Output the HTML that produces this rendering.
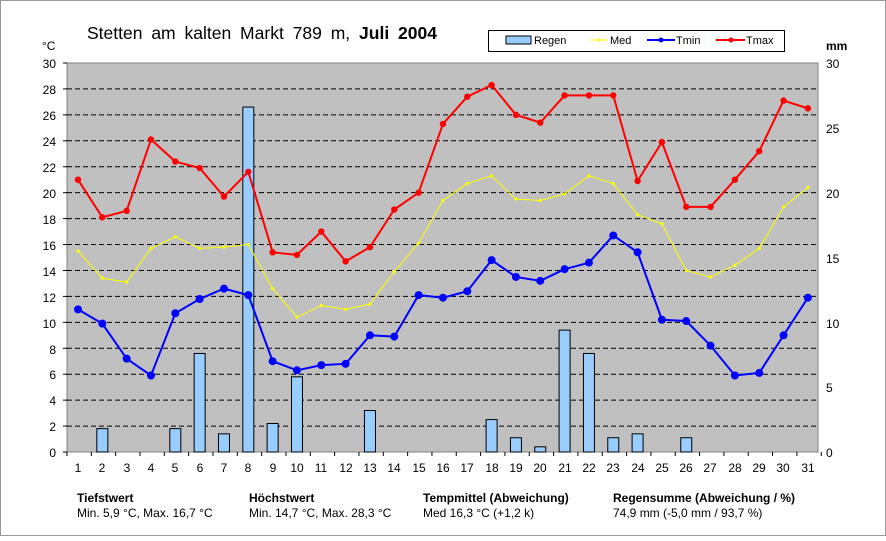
<!DOCTYPE html>
<html><head><meta charset="utf-8"><style>
body{margin:0;background:#fff;}
svg text{font-family:"Liberation Sans",sans-serif;}
</style></head><body>
<svg id="s" width="886" height="536" xmlns="http://www.w3.org/2000/svg">
<rect x="0.5" y="0.5" width="885" height="535" fill="#fff" stroke="#999"/>
<rect x="67" y="63" width="751" height="389" fill="#c0c0c0" stroke="#808080"/>
<g id="grid"></g>
<text x="87" y="39" font-size="17.5" word-spacing="4">Stetten am kalten Markt  789 m, <tspan font-weight="bold">Juli 2004</tspan></text>
<text x="42" y="50" font-size="12">°C</text>
<text x="826" y="50" font-size="12" font-weight="bold">mm</text>
<rect x="488.5" y="30.5" width="296" height="21" fill="#fff" stroke="#000"/>
<rect x="506" y="36" width="25" height="8" fill="#99ccff" stroke="#000"/>
<text x="534" y="44" font-size="11">Regen</text>
<line x1="590" y1="40" x2="608" y2="40" stroke="#ffff00"/><circle cx="599" cy="40" r="1.5" fill="#ffff00"/>
<text x="610" y="44" font-size="11">Med</text>
<line x1="647" y1="40" x2="675" y2="40" stroke="#0000ff" stroke-width="2"/><circle cx="661" cy="40" r="2.5" fill="#0000ff"/>
<text x="676" y="44" font-size="11">Tmin</text>
<line x1="716" y1="40" x2="745" y2="40" stroke="#ff0000" stroke-width="2"/><circle cx="731" cy="40" r="2.5" fill="#ff0000"/>
<text x="746" y="44" font-size="11">Tmax</text>
<g font-size="12" text-anchor="end">
<text x="56" y="68">30</text><text x="56" y="94">28</text><text x="56" y="120">26</text><text x="56" y="146">24</text><text x="56" y="172">22</text><text x="56" y="198">20</text><text x="56" y="224">18</text><text x="56" y="250">16</text><text x="56" y="276">14</text><text x="56" y="302">12</text><text x="56" y="328">10</text><text x="56" y="354">8</text><text x="56" y="379">6</text><text x="56" y="405">4</text><text x="56" y="431">2</text><text x="56" y="457">0</text>
</g>
<g font-size="12">
<text x="826" y="68">30</text><text x="826" y="133">25</text><text x="826" y="198">20</text><text x="826" y="263">15</text><text x="826" y="328">10</text><text x="826" y="392">5</text><text x="826" y="457">0</text>
</g>
<g font-size="12" text-anchor="middle">
<text x="78" y="472">1</text><text x="102" y="472">2</text><text x="127" y="472">3</text><text x="151" y="472">4</text><text x="175" y="472">5</text><text x="200" y="472">6</text><text x="224" y="472">7</text><text x="248" y="472">8</text><text x="273" y="472">9</text><text x="297" y="472">10</text><text x="321" y="472">11</text><text x="346" y="472">12</text><text x="370" y="472">13</text><text x="394" y="472">14</text><text x="419" y="472">15</text><text x="443" y="472">16</text><text x="467" y="472">17</text><text x="492" y="472">18</text><text x="516" y="472">19</text><text x="540" y="472">20</text><text x="565" y="472">21</text><text x="589" y="472">22</text><text x="613" y="472">23</text><text x="638" y="472">24</text><text x="662" y="472">25</text><text x="686" y="472">26</text><text x="710" y="472">27</text><text x="735" y="472">28</text><text x="759" y="472">29</text><text x="783" y="472">30</text><text x="808" y="472">31</text>
</g>
<g font-size="12">
<text x="77" y="502" font-weight="bold">Tiefstwert</text><text x="77" y="517">Min. 5,9 °C, Max. 16,7 °C</text>
<text x="249" y="502" font-weight="bold">Höchstwert</text><text x="249" y="517">Min. 14,7 °C, Max. 28,3 °C</text>
<text x="423" y="502" font-weight="bold">Tempmittel (Abweichung)</text><text x="423" y="517">Med 16,3 °C (+1,2 k)</text>
<text x="613" y="502" font-weight="bold">Regensumme (Abweichung / %)</text><text x="613" y="517">74,9 mm (-5,0 mm / 93,7 %)</text>
</g>
<g id="data"></g>
</svg>
<script>
var NS="http://www.w3.org/2000/svg";
function el(p,t,a){var e=document.createElementNS(NS,t);for(var k in a)e.setAttribute(k,a[k]);p.appendChild(e);return e;}
var g=document.getElementById("grid"),d=document.getElementById("data");
function Y(v){return 452-v*12.967;}function X(i){return 78+i*24.33;}
for(var v=2;v<30;v+=2)el(g,"line",{x1:67,x2:818,y1:Y(v),y2:Y(v),stroke:"#000","stroke-dasharray":"5,3","stroke-width":1});
for(var v=0;v<=30;v+=2){el(g,"line",{x1:63,x2:67,y1:Y(v),y2:Y(v),stroke:"#000"});}
for(var i=0;i<=31;i++){var x=67+i*24.33;el(g,"line",{x1:x,x2:x,y1:452,y2:456,stroke:"#000"});}
var rain=[0,1.8,0,0,1.8,7.6,1.4,26.6,2.2,5.8,0,0,3.2,0,0,0,0,2.5,1.1,0.4,9.4,7.6,1.1,1.4,0,1.1,0,0,0,0,0];
var tmax=[21.0,18.1,18.6,24.1,22.4,21.9,19.7,21.6,15.4,15.2,17.0,14.7,15.8,18.7,20.0,25.3,27.4,28.3,26.0,25.4,27.5,27.5,27.5,20.9,23.9,18.9,18.9,21.0,23.2,27.1,26.5];
var tmin=[11.0,9.9,7.2,5.9,10.7,11.8,12.6,12.1,7.0,6.3,6.7,6.8,9.0,8.9,12.1,11.9,12.4,14.8,13.5,13.2,14.1,14.6,16.7,15.4,10.2,10.1,8.2,5.9,6.1,9.0,11.9];
var med=[15.5,13.4,13.1,15.7,16.6,15.7,15.8,16.0,12.6,10.4,11.3,11.0,11.4,13.9,16.1,19.4,20.7,21.3,19.5,19.4,19.9,21.3,20.7,18.3,17.6,14.0,13.5,14.4,15.7,18.9,20.4];
rain.forEach(function(r,i){if(r>0)el(d,"rect",{x:X(i)-5.5,y:Y(r),width:11,height:r*12.967,fill:"#99ccff",stroke:"#000","stroke-width":1});});
function line(a,c,w,r){el(d,"polyline",{points:a.map(function(v,i){return X(i)+","+Y(v)}).join(" "),fill:"none",stroke:c,"stroke-width":w});a.forEach(function(v,i){el(d,"circle",{cx:X(i),cy:Y(v),r:r,fill:c});});}
line(med,"#ffff00",1,1.6);line(tmin,"#0000ff",2,4);line(tmax,"#ff0000",2,3.2);
</script>
</body></html>
